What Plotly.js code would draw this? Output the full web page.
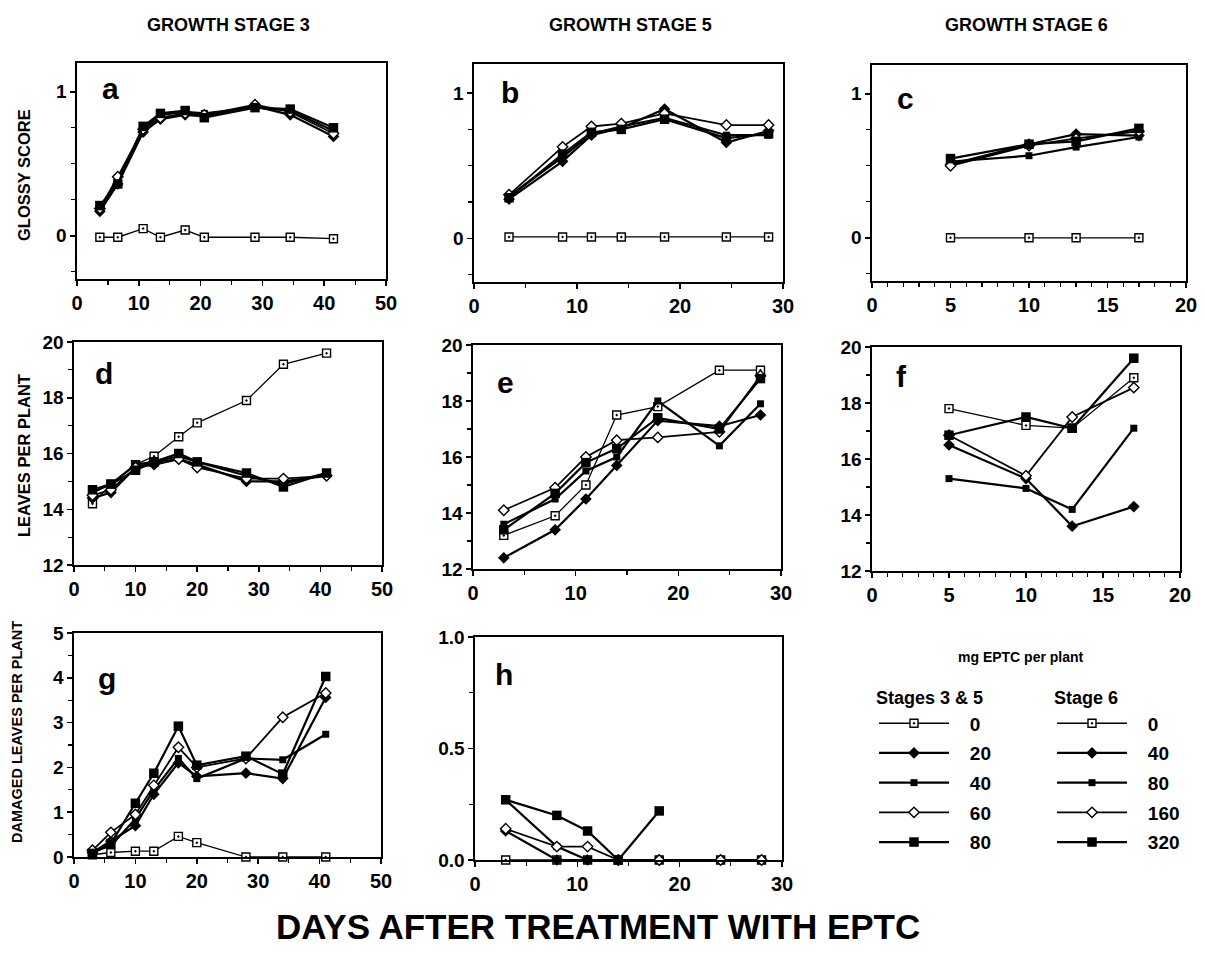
<!DOCTYPE html>
<html><head><meta charset="utf-8">
<script src="https://cdn.plot.ly/plotly-3.0.1.min.js"></script>
<style>html,body{margin:0;padding:0;background:#fff}</style>
</head><body><div id="chart" style="width:1205px;height:954px"></div>
<script>
// ---------------- DATA ----------------
const dosesStages35 = ['0', '20', '40', '60', '80'];
const dosesStage6 = ['0', '40', '80', '160', '320'];

// Panel a: glossy score, stage 3
const daysA = [3.7, 6.6, 10.7, 13.5, 17.5, 20.6, 28.8, 34.5, 41.5];
const glossyA_0 = [-0.01, -0.01, 0.05, -0.01, 0.04, -0.01, -0.01, -0.01, -0.02];
const glossyA_20 = [0.17, 0.36, 0.72, 0.81, 0.84, 0.83, 0.90, 0.84, 0.69];
const glossyA_40 = [0.20, 0.38, 0.75, 0.84, 0.86, 0.85, 0.89, 0.87, 0.73];
const glossyA_60 = [0.19, 0.41, 0.74, 0.82, 0.85, 0.84, 0.91, 0.86, 0.71];
const glossyA_80 = [0.21, 0.36, 0.76, 0.85, 0.87, 0.82, 0.89, 0.88, 0.75];

// Panel b: glossy score, stage 5
const daysB = [3.4, 8.6, 11.4, 14.3, 18.5, 24.5, 28.6];
const glossyB_0 = [0.01, 0.01, 0.01, 0.01, 0.01, 0.01, 0.01];
const glossyB_20 = [0.27, 0.53, 0.71, 0.76, 0.89, 0.66, 0.74];
const glossyB_40 = [0.29, 0.56, 0.72, 0.77, 0.83, 0.71, 0.71];
const glossyB_60 = [0.30, 0.63, 0.77, 0.79, 0.86, 0.78, 0.78];
const glossyB_80 = [0.28, 0.58, 0.73, 0.75, 0.82, 0.69, 0.72];

// Stage 6 days (panels c, f)
const daysStage6 = [5, 10, 13, 17];
const glossyC_0 = [0.00, 0.00, 0.00, 0.00];
const glossyC_40 = [0.51, 0.65, 0.72, 0.71];
const glossyC_80 = [0.53, 0.57, 0.63, 0.70];
const glossyC_160 = [0.50, 0.64, 0.69, 0.74];
const glossyC_320 = [0.55, 0.65, 0.67, 0.76];

// Stage 3 days (panels d, g)
const daysStage3 = [3, 6, 10, 13, 17, 20, 28, 34, 41];
const leavesD_0 = [14.2, 14.9, 15.6, 15.9, 16.6, 17.1, 17.9, 19.2, 19.6];
const leavesD_20 = [14.4, 14.6, 15.5, 15.6, 15.8, 15.6, 15.0, 15.0, 15.2];
const leavesD_40 = [14.6, 14.9, 15.6, 15.7, 15.9, 15.7, 15.2, 14.9, 15.3];
const leavesD_60 = [14.5, 14.7, 15.5, 15.7, 15.8, 15.5, 15.1, 15.1, 15.2];
const leavesD_80 = [14.7, 14.9, 15.4, 15.7, 16.0, 15.7, 15.3, 14.8, 15.3];

// Stage 5 days (panels e, h)
const daysStage5 = [3, 8, 11, 14, 18, 24, 28];
const leavesE_0 = [13.2, 13.9, 15.0, 17.5, 17.8, 19.1, 19.1];
const leavesE_20 = [12.4, 13.4, 14.5, 15.7, 17.3, 17.1, 17.5];
const leavesE_40 = [13.6, 14.5, 15.5, 16.0, 18.0, 16.4, 17.9];
const leavesE_60 = [14.1, 14.9, 16.0, 16.6, 16.7, 16.9, 18.9];
const leavesE_80 = [13.4, 14.7, 15.8, 16.3, 17.4, 17.0, 18.8];

const leavesF_0 = [17.8, 17.2, 17.1, 18.9];
const leavesF_40 = [16.5, 15.3, 13.6, 14.3];
const leavesF_80 = [15.3, 14.95, 14.2, 17.1];
const leavesF_160 = [16.85, 15.4, 17.5, 18.55];
const leavesF_320 = [16.85, 17.5, 17.1, 19.6];

const damagedG_0 = [0.05, 0.10, 0.13, 0.13, 0.46, 0.32, 0, 0, 0];
const damagedG_20 = [0.10, 0.35, 0.70, 1.40, 2.10, 1.80, 1.87, 1.75, 3.56];
const damagedG_40 = [0.12, 0.25, 0.85, 1.50, 2.20, 1.75, 2.20, 2.17, 2.74];
const damagedG_60 = [0.15, 0.55, 0.95, 1.60, 2.45, 2.00, 2.20, 3.12, 3.66];
const damagedG_80 = [0.08, 0.30, 1.20, 1.87, 2.92, 2.05, 2.25, 1.85, 4.03];

const daysH_80 = [3, 8, 11, 14, 18];
const damagedH_0 = [0, 0, 0, 0, 0, 0, 0];
const damagedH_20 = [0.13, 0, 0, 0, 0, 0, 0];
const damagedH_40 = [0.27, 0.06, 0, 0, 0, 0, 0];
const damagedH_60 = [0.14, 0.06, 0.06, 0, 0, 0, 0];
const damagedH_80 = [0.27, 0.20, 0.13, 0, 0.22];

// Tick labels
const ticks50 = [0, 10, 20, 30, 40, 50];
const ticks30 = [0, 10, 20, 30];
const ticks20 = [0, 5, 10, 15, 20];
const ticksGlossy = [0, 1];
const ticksLeaves = [12, 14, 16, 18, 20];
const ticksDamagedG = [0, 1, 2, 3, 4, 5];
const ticksDamagedH = [0, 0.5, 1.0];
const ticksDamagedHText = ['0.0', '0.5', '1.0'];

// ---------------- STYLE / LAYOUT ----------------
const W = 1205, H = 954;
const FONT = 'Liberation Sans, Arial, Helvetica, sans-serif';
const px = v => v / W;
const py = v => 1 - v / H;
const bold = t => '<b>' + t + '</b>';
const legendPad = '\u00a0\u00a0\u00a0';

const styles = [
  {symbol: 'square-dot', size: 8, color: 'white', lw: 1.3, mlw: 1.4},
  {symbol: 'diamond', size: 9, color: 'black', lw: 2.2, mlw: 0},
  {symbol: 'square', size: 7, color: 'black', lw: 2.2, mlw: 0},
  {symbol: 'diamond', size: 8, color: 'white', lw: 1.8, mlw: 1.4},
  {symbol: 'square', size: 9.5, color: 'black', lw: 2.2, mlw: 0}
];

const traces = [];
function addPanel(ax, xs, ys, names, legendId) {
  ys.forEach((y, i) => {
    const s = styles[i];
    const x = Array.isArray(xs[0]) ? xs[i] : xs;
    traces.push({
      type: 'scatter', mode: 'lines+markers', x: x, y: y,
      xaxis: 'x' + (ax === 1 ? '' : ax), yaxis: 'y' + (ax === 1 ? '' : ax),
      name: legendPad + bold(names[i]),
      showlegend: !!legendId, legend: legendId || 'legend',
      legendgroup: (legendId || 'n') + i,
      cliponaxis: false,
      line: {color: 'black', width: s.lw},
      marker: {symbol: s.symbol, size: s.size, color: s.color,
               line: {color: 'black', width: s.mlw}}
    });
  });
}

addPanel(1, daysA, [glossyA_0, glossyA_20, glossyA_40, glossyA_60, glossyA_80], dosesStages35, 'legend');
addPanel(2, daysB, [glossyB_0, glossyB_20, glossyB_40, glossyB_60, glossyB_80], dosesStages35);
addPanel(3, daysStage6, [glossyC_0, glossyC_40, glossyC_80, glossyC_160, glossyC_320], dosesStage6, 'legend2');
addPanel(4, daysStage3, [leavesD_0, leavesD_20, leavesD_40, leavesD_60, leavesD_80], dosesStages35);
addPanel(5, daysStage5, [leavesE_0, leavesE_20, leavesE_40, leavesE_60, leavesE_80], dosesStages35);
addPanel(6, daysStage6, [leavesF_0, leavesF_40, leavesF_80, leavesF_160, leavesF_320], dosesStage6);
addPanel(7, daysStage3, [damagedG_0, damagedG_20, damagedG_40, damagedG_60, damagedG_80], dosesStages35);
addPanel(8, [daysStage5, daysStage5, daysStage5, daysStage5, daysH_80],
         [damagedH_0, damagedH_20, damagedH_40, damagedH_60, damagedH_80], dosesStages35);

// panel pixel boxes [left, right, top, bottom]
const boxes = [
  [77, 386, 63, 279],
  [474, 783, 64, 282],
  [872, 1186, 65, 281],
  [74, 382, 342, 565],
  [473, 781, 345, 569],
  [872, 1180, 347, 571],
  [74, 381, 633, 857],
  [475, 782, 637, 860]
];
const xr = [[0, 50], [0, 30], [0, 20], [0, 50], [0, 30], [0, 20], [0, 50], [0, 30]];
const xt = [ticks50, ticks30, ticks20, ticks50, ticks30, ticks20, ticks50, ticks30];
const xminor = [5, 5, 1, 5, 5, 1, 5, 5];
const yr = [[-0.3, 1.2], [-0.3, 1.2], [-0.3, 1.2], [12, 20], [12, 20], [12, 20], [0, 5], [0, 1]];
const yt = [ticksGlossy, ticksGlossy, ticksGlossy, ticksLeaves, ticksLeaves, ticksLeaves, ticksDamagedG, ticksDamagedH];
const ytt = [null, null, null, null, null, null, null, ticksDamagedHText];
const yminor = [0.25, 0.25, 0.25, 1, 1, 1, 0.5, 0.25];

const layout = {
  width: W, height: H,
  margin: {l: 0, r: 0, t: 0, b: 0},
  paper_bgcolor: 'white', plot_bgcolor: 'white',
  font: {family: FONT, color: 'black', weight: 700},
  showlegend: true,
  annotations: [],
  legend: {
    x: px(874), y: py(681), xanchor: 'left', yanchor: 'top',
    bgcolor: 'rgba(0,0,0,0)', borderwidth: 0,
    itemwidth: 70, tracegroupgap: 2, traceorder: 'grouped',
    font: {family: FONT, size: 19, weight: 700},
    title: {text: bold('Stages 3 & 5'), font: {family: FONT, size: 18, weight: 700}},
    itemclick: false, itemdoubleclick: false
  },
  legend2: {
    x: px(1052), y: py(681), xanchor: 'left', yanchor: 'top',
    bgcolor: 'rgba(0,0,0,0)', borderwidth: 0,
    itemwidth: 70, tracegroupgap: 2, traceorder: 'grouped',
    font: {family: FONT, size: 19, weight: 700},
    title: {text: bold('Stage 6'), font: {family: FONT, size: 18, weight: 700}},
    itemclick: false, itemdoubleclick: false
  }
};

boxes.forEach((b, i) => {
  const id = i === 0 ? '' : String(i + 1);
  const common = {
    showline: true, linecolor: 'black', linewidth: 1.6, mirror: true,
    showgrid: false, zeroline: false, ticks: 'outside', tickcolor: 'black',
    ticklen: 5, tickwidth: 1.5, fixedrange: true
  };
  layout['xaxis' + id] = Object.assign({}, common, {
    domain: [px(b[0]), px(b[1])], anchor: 'y' + id, range: xr[i],
    tickmode: 'array', tickvals: xt[i], ticktext: xt[i].map(v => bold(v)),
    tickfont: {family: FONT, size: 20, weight: 700},
    minor: {tickmode: 'linear', tick0: 0, dtick: xminor[i], ticks: 'outside', ticklen: 4, tickcolor: 'black', tickwidth: 1.2}
  });
  layout['yaxis' + id] = Object.assign({}, common, {
    domain: [py(b[3]), py(b[2])], anchor: 'x' + id, range: yr[i],
    tickmode: 'array', tickvals: yt[i], ticktext: (ytt[i] || yt[i]).map(v => bold(v)),
    tickfont: {family: FONT, size: 19, weight: 700},
    minor: {tickmode: 'linear', tick0: 0, dtick: yminor[i], ticks: 'outside', ticklen: 4, tickcolor: 'black', tickwidth: 1.2}
  });
});

const ann = (text, x, y, size, extra) => Object.assign({
  text: bold(text), x: px(x), y: py(y), xref: 'paper', yref: 'paper',
  showarrow: false, xanchor: 'center', yanchor: 'middle',
  font: {family: FONT, size: size, weight: 700, color: 'black'}
}, extra || {});

layout.annotations.push(
  ann('GROWTH STAGE 3', 228, 25, 18),
  ann('GROWTH STAGE 5', 630, 25, 18),
  ann('GROWTH STAGE 6', 1026, 25, 18),
  ann('GLOSSY SCORE', 24, 175, 16.5, {textangle: -90}),
  ann('LEAVES PER PLANT', 24, 456, 16.5, {textangle: -90}),
  ann('DAMAGED LEAVES PER PLANT', 17, 732, 14.5, {textangle: -90}),
  ann('DAYS AFTER TREATMENT WITH EPTC', 598, 926, 35),
  ann('mg EPTC per plant', 1021, 657, 14),
  ann('a', 110, 88, 30),
  ann('b', 510, 93, 30),
  ann('c', 905, 98, 30),
  ann('d', 104, 373, 30),
  ann('e', 505, 382, 30),
  ann('f', 901, 376, 30),
  ann('g', 107, 678, 30),
  ann('h', 504, 674, 30)
);

Plotly.newPlot('chart', traces, layout, {staticPlot: true, displayModeBar: false});
</script>
</body></html>
